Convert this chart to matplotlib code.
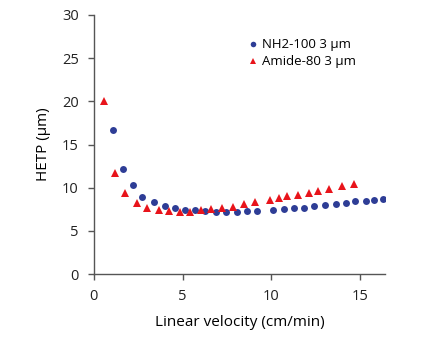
import matplotlib.pyplot as plt

# HETP curves
nh2_x = [1.07, 1.64, 2.2, 2.71, 3.41, 3.98, 4.56, 5.14, 5.71, 6.27, 6.86, 7.42, 8.05, 8.61,
         9.21, 10.08, 10.72, 11.28, 11.85, 12.4, 13.0, 13.64, 14.18, 14.7, 15.35, 15.76, 16.3]
nh2_y = [16.7, 12.2, 10.3, 8.95, 8.3, 7.88, 7.6, 7.38, 7.38, 7.3, 7.22, 7.22, 7.22, 7.34,
         7.34, 7.38, 7.5, 7.6, 7.7, 7.88, 8.0, 8.1, 8.2, 8.4, 8.5, 8.55, 8.65]

amide_x = [0.56, 1.19, 1.77, 2.43, 3.01, 3.64, 4.24, 4.84, 5.41, 6.03, 6.59, 7.23, 7.82,
           8.44, 9.06, 9.9, 10.4, 10.87, 11.5, 12.1, 12.6, 13.24, 14.0, 14.67]
amide_y = [20.0, 11.7, 9.34, 8.2, 7.7, 7.4, 7.3, 7.22, 7.22, 7.4, 7.5, 7.7, 7.8,
           8.1, 8.3, 8.55, 8.75, 9.0, 9.15, 9.37, 9.65, 9.8, 10.2, 10.45]

plt.rcParams['font.family'] = ['Open Sans', 'DejaVu Sans']

fig = plt.figure(figsize=(4.25, 3.4), dpi=100)
ax = fig.add_axes([0.221, 0.194, 0.685, 0.762])

ax.plot(nh2_x, nh2_y, 'o', color='#2e3d96', markersize=5, markeredgewidth=0,
        label='NH2-100 3 µm')
ax.plot(amide_x, amide_y, '^', color='#e8141b', markersize=6.2, markeredgewidth=0,
        label='Amide-80 3 µm')

ax.set_xlim(0, 16.4)
ax.set_ylim(0, 30)
ax.set_xticks([0, 5, 10, 15])
ax.set_yticks(range(0, 31, 5))
ax.set_xlabel('Linear velocity (cm/min)', fontsize=11, labelpad=8)
ax.set_ylabel('HETP (µm)', fontsize=11, labelpad=8)

for side in ['top', 'right']:
    ax.spines[side].set_visible(False)
for side in ['left', 'bottom']:
    ax.spines[side].set_color('#555555')
    ax.spines[side].set_linewidth(1.0)
ax.tick_params(colors='#555555', labelcolor='#222222', labelsize=10.5,
               length=4, width=1.0, pad=7)

ax.legend(loc='upper left', bbox_to_anchor=(0.5, 0.93), frameon=False,
          fontsize=9.5, handletextpad=0.1, handlelength=1.2, labelspacing=0.3,
          borderaxespad=0, markerscale=0.8)

fig.savefig('out.png', dpi=100)
